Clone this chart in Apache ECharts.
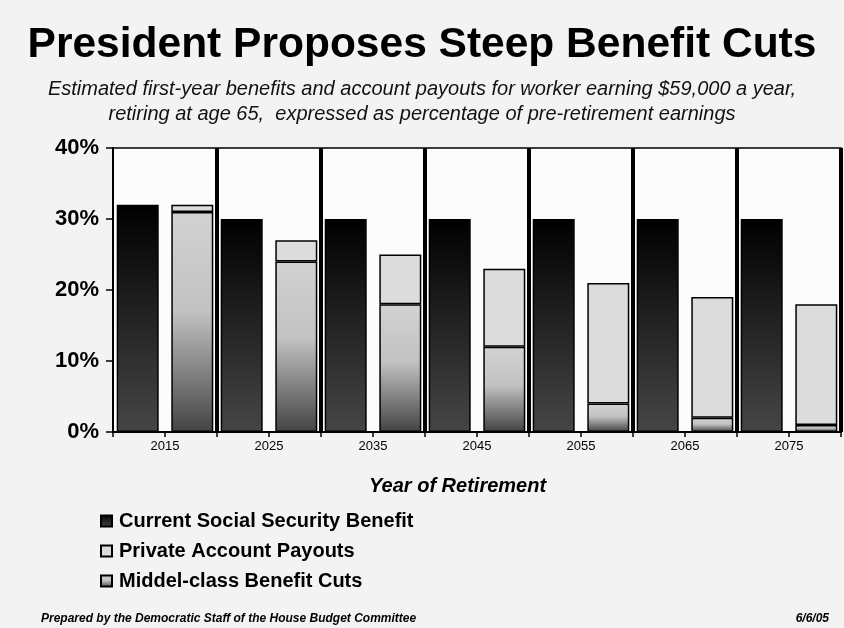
<!DOCTYPE html>
<html>
<head>
<meta charset="utf-8">
<style>
  html, body { margin: 0; padding: 0; background: #f3f3f3; }
  #chart { width: 844px; height: 628px; }
</style>
<script src="https://cdn.jsdelivr.net/npm/echarts@6/dist/echarts.min.js"></script>
</head>
<body>
<div id="chart"></div>
<script>
var years = ['2015', '2025', '2035', '2045', '2055', '2065', '2075'];
var currentBenefit = [32, 30, 30, 30, 30, 30, 30];
var benefitCuts = [31, 24, 18, 12, 4, 2, 1];
var privatePayouts = [1, 3, 7, 11, 17, 17, 17];
var yTicks = [0, 10, 20, 30, 40];

var seriesNames = ['Current Social Security Benefit', 'Private Account Payouts', 'Middel-class Benefit Cuts'];

var sans = '"Liberation Sans", Arial, sans-serif';

var chart = echarts.init(document.getElementById('chart'));

var darkFill = new echarts.graphic.LinearGradient(0, 0, 0, 1, [
    { offset: 0, color: '#000000' },
    { offset: 1, color: '#464646' }
]);
var cutFill = new echarts.graphic.LinearGradient(0, 0, 0, 1, [
    { offset: 0, color: '#d2d2d2' },
    { offset: 0.45, color: '#c2c2c2' },
    { offset: 1, color: '#434343' }
]);

var option = {
    backgroundColor: '#f3f3f3',
    animation: false,
    title: [
        {
            text: 'President Proposes Steep Benefit Cuts',
            left: 'center',
            top: 19,
            textStyle: { fontFamily: sans, fontWeight: 'bold', fontSize: 42.5, color: '#000' }
        },
        {
            text: 'Estimated first-year benefits and account payouts for worker earning $59,000 a year,\nretiring at age 65,  expressed as percentage of pre-retirement earnings',
            left: 'center',
            top: 72,
            textStyle: { fontFamily: sans, fontStyle: 'italic', fontWeight: 'normal', fontSize: 20, lineHeight: 25, color: '#111', align: 'center' }
        },
        {
            text: 'Year of Retirement',
            left: 364,
            top: 471,
            textStyle: { fontFamily: sans, fontStyle: 'italic', fontWeight: 'bold', fontSize: 20, color: '#000' }
        },
        {
            text: 'Prepared by the Democratic Staff of the House Budget Committee',
            left: 36,
            top: 608,
            textStyle: { fontFamily: sans, fontStyle: 'italic', fontWeight: 'bold', fontSize: 12, color: '#000' }
        },
        {
            text: '6/6/05',
            right: 10,
            top: 608,
            textStyle: { fontFamily: sans, fontStyle: 'italic', fontWeight: 'bold', fontSize: 12, color: '#000' }
        }
    ],
    legend: {
        orient: 'vertical',
        left: 95,
        top: 506,
        itemWidth: 11,
        itemHeight: 11,
        itemGap: 10,
        icon: 'rect',
        data: seriesNames,
        textStyle: { fontFamily: sans, fontWeight: 'bold', fontSize: 20, color: '#000', padding: [0, 0, 0, 2] }
    },
    grid: {
        left: 113,
        right: 3,
        top: 148,
        bottom: 196,
        show: true,
        borderColor: '#000',
        borderWidth: 1.5,
        backgroundColor: '#fcfcfc'
    },
    xAxis: [
        {
            type: 'category',
            data: years,
            axisLine: { lineStyle: { color: '#000', width: 2 } },
            axisTick: { show: true, length: 5, lineStyle: { color: '#000', width: 1.5 } },
            axisLabel: { fontFamily: sans, fontSize: 13, color: '#000', margin: 8 },
            splitLine: {
                show: true,
                interval: function (index) { return index > 0; },
                lineStyle: { color: '#000', width: 4 }
            }
        },
        {
            type: 'category',
            data: years,
            position: 'bottom',
            axisLine: { show: false },
            axisTick: { show: true, alignWithLabel: true, length: 5, lineStyle: { color: '#000', width: 1.5 } },
            axisLabel: { show: false },
            splitLine: { show: false }
        }
    ],
    yAxis: {
        type: 'value',
        min: yTicks[0],
        max: yTicks[yTicks.length - 1],
        interval: 10,
        axisLine: { show: true, lineStyle: { color: '#000', width: 2 } },
        axisTick: { show: true, length: 7, lineStyle: { color: '#000', width: 1.5 } },
        splitLine: { show: false },
        axisLabel: {
            fontFamily: sans,
            fontWeight: 'bold',
            fontSize: 22,
            color: '#000',
            margin: 14,
            formatter: '{value}%'
        }
    },
    series: [
        {
            name: seriesNames[0],
            type: 'bar',
            data: currentBenefit,
            barWidth: 42,
            barGap: '30%',
            itemStyle: { color: darkFill, borderColor: '#000', borderWidth: 1.5 }
        },
        {
            name: seriesNames[2],
            type: 'bar',
            stack: 'second',
            data: benefitCuts,
            barWidth: 42,
            itemStyle: { color: cutFill, borderColor: '#000', borderWidth: 1.5 }
        },
        {
            name: seriesNames[1],
            type: 'bar',
            stack: 'second',
            data: privatePayouts,
            barWidth: 42,
            itemStyle: { color: '#dcdcdc', borderColor: '#000', borderWidth: 1.5 }
        }
    ]
};

chart.setOption(option);
</script>
</body>
</html>
